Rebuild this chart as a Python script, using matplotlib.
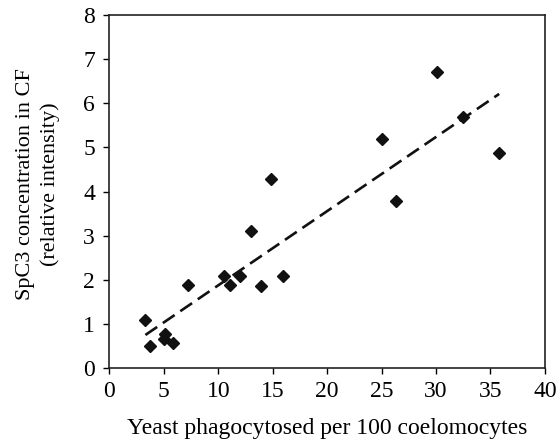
import numpy as np
import matplotlib
matplotlib.use("Agg")
from matplotlib import pyplot as plt

plt.rcParams['font.family'] = ['Liberation Serif', 'DejaVu Serif']

# yeast phagocytosed per 100 coelomocytes vs SpC3 relative intensity
yeast = [3.3, 3.7, 5.1, 5.0, 5.8, 7.2, 10.5, 11.1, 12.0, 13.0, 13.9, 14.8,
         15.9, 25.0, 26.3, 30.1, 32.5, 35.8]
spc3 = [1.09, 0.50, 0.77, 0.65, 0.57, 1.88, 2.09, 1.88, 2.09, 3.10, 1.86, 4.28,
        2.09, 5.19, 3.79, 6.70, 5.68, 4.88]

xticks = [0, 5, 10, 15, 20, 25, 30, 35, 40]
yticks = [0, 1, 2, 3, 4, 5, 6, 7, 8]

fig = plt.figure(figsize=(5.6, 4.43), dpi=100)
ax = fig.add_axes([0.1955, 0.169, 0.7775, 0.797])

ax.plot(yeast, spc3, linestyle='none', marker='D', markersize=6.2,
        color='#111111')

# linear trend line
slope, icpt = np.polyfit(yeast, spc3, 1)
xl = np.array([min(yeast), max(yeast)])
ax.plot(xl, slope * xl + icpt, color='#111111', lw=1.9, dashes=(5.4, 2.6))

ax.set_xlim(0, 40)
ax.set_ylim(0, 8)
ax.set_xticks(xticks)
ax.set_yticks(yticks)
ax.tick_params(direction='out', length=4, width=1, labelsize=17,
               top=False, right=False)
ax.tick_params(axis='x', pad=5)
ax.tick_params(axis='y', pad=6.5)
for s in ax.spines.values():
    s.set_linewidth(1.2)
    s.set_color('#222222')

ax.set_xlabel('Yeast phagocytosed per 100 coelomocytes', fontsize=17,
              labelpad=12)
ax.set_ylabel('SpC3 concentration in CF\n(relative intensity)', fontsize=16,
              linespacing=1.35, va='center')
ax.yaxis.set_label_coords(-0.165, 0.521)

fig.savefig('out.png', dpi=100)
